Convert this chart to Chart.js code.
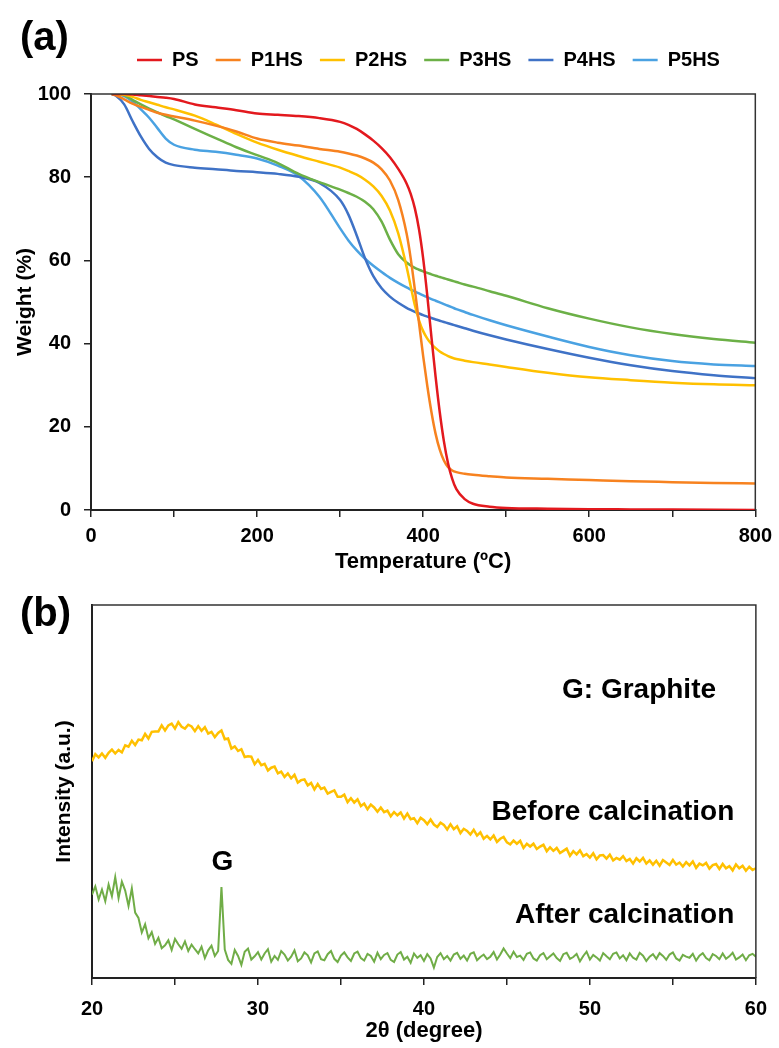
<!DOCTYPE html>
<html>
<head>
<meta charset="utf-8">
<script src="https://cdn.jsdelivr.net/npm/chart.js@4.4.1/dist/chart.umd.min.js"></script>
<style>
  body { margin: 0; background: #fff; }
  #wrap { position: relative; width: 779px; height: 1048px; }
  canvas { position: absolute; left: 0; }
  #chart-a { top: 0; }
  #chart-b { top: 585px; }
</style>
</head>
<body>
<div id="wrap">
  <canvas id="chart-a" width="779" height="585"></canvas>
  <canvas id="chart-b" width="779" height="463"></canvas>
</div>
<script>
// ---- TGA data (weight %, read at these temperatures) ----
const tempC = [25, 30, 40, 50, 60, 70, 80, 90, 100, 125, 150, 175, 200, 225, 250, 275, 300,
  310, 320, 330, 340, 350, 360, 370, 380, 385, 390, 395, 400, 405, 410, 415, 420, 425, 430,
  435, 440, 450, 460, 480, 500, 550, 600, 650, 700, 750, 800];

const wPS = [100, 100, 100, 99.9, 99.7, 99.5, 99.3, 99.1, 98.8, 97.5, 96.8, 96.1, 95.3, 95.0, 94.7, 94.2, 93.3,
  92.6, 91.6, 90.3, 88.8, 87.0, 84.8, 82.0, 78.5, 76.0, 72.5, 67.5, 60.5, 51.5, 41.5, 32.0, 23.5, 16.5, 11.2,
  7.5, 5.0, 2.6, 1.5, 0.8, 0.5, 0.3, 0.2, 0.15, 0.1, 0.05, 0.0];
const wP1HS = [100, 99.7, 98.7, 97.7, 96.9, 96.2, 95.5, 95.0, 94.6, 93.6, 92.4, 91.0, 89.3, 88.3, 87.6, 86.8, 86.1,
  85.7, 85.2, 84.5, 83.5, 81.9, 79.2, 74.5, 66.5, 60.5, 53.0, 45.0, 37.0, 29.8, 23.5, 18.3, 14.5, 11.9, 10.3,
  9.5, 9.1, 8.7, 8.45, 8.1, 7.8, 7.5, 7.2, 6.9, 6.7, 6.5, 6.4];
const wP2HS = [100, 100, 99.8, 99.3, 98.6, 98.0, 97.4, 96.8, 96.3, 94.8, 92.7, 90.4, 88.3, 86.6, 85.1, 83.7, 82.3,
  81.5, 80.6, 79.4, 77.8, 75.5, 72.0, 66.5, 58.5, 53.8, 49.2, 45.6, 43.0, 41.2, 39.9, 38.9, 38.1, 37.5, 37.0,
  36.6, 36.3, 35.9, 35.55, 35.0, 34.4, 33.0, 31.9, 31.2, 30.6, 30.2, 30.0];
const wP3HS = [100, 100, 99.7, 98.6, 97.5, 96.5, 95.6, 94.7, 93.9, 91.6, 89.4, 87.2, 85.3, 83.4, 80.8, 78.8, 77.0,
  76.2, 75.3, 74.1, 72.3, 69.3, 65.0, 61.5, 59.5, 58.8, 58.2, 57.75, 57.35, 57.0, 56.65, 56.3, 56.0, 55.7, 55.4,
  55.1, 54.8, 54.2, 53.7, 52.6, 51.5, 48.5, 46.0, 43.9, 42.3, 41.1, 40.2];
const wP4HS = [100, 99.6, 97.5, 93.5, 89.8, 86.8, 84.8, 83.5, 82.9, 82.3, 81.9, 81.5, 81.2, 80.8, 80.1, 78.6, 74.5,
  71.0, 66.0, 60.5, 56.2, 53.3, 51.3, 49.8, 48.6, 48.1, 47.65, 47.25, 46.85, 46.5, 46.15, 45.8, 45.5, 45.2, 44.9,
  44.6, 44.3, 43.7, 43.1, 42.0, 41.0, 38.7, 36.6, 34.8, 33.4, 32.4, 31.7];
const wP5HS = [100, 100, 99.5, 98.2, 96.3, 94.3, 91.8, 89.3, 87.8, 86.6, 86.1, 85.4, 84.5, 82.8, 80.3, 75.3, 67.7,
  64.8, 62.4, 60.4, 58.7, 57.2, 55.8, 54.6, 53.5, 53.0, 52.5, 52.05, 51.6, 51.15, 50.7, 50.3, 49.9, 49.5, 49.1,
  48.7, 48.3, 47.6, 46.9, 45.6, 44.4, 41.7, 39.2, 37.2, 35.8, 35.0, 34.6];

const tgaLabels = ['PS', 'P1HS', 'P2HS', 'P3HS', 'P4HS', 'P5HS'];
const tgaSeries = [wPS, wP1HS, wP2HS, wP3HS, wP4HS, wP5HS];
const tgaColors = ['#E3191E', '#F7821F', '#FFC000', '#6CB047', '#3F72C6', '#4AA2E2'];

const tempTicks = [0, 200, 400, 600, 800];
const weightTicks = [0, 20, 40, 60, 80, 100];

// ---- XRD scans, 2theta 20-60 deg in 0.2 deg steps (arb. units) ----
const thetaStart = 20, thetaStep = 0.2;
const xrdBefore = [
  61.0, 63.0, 62.1, 63.2, 62.0, 63.4, 64.3, 63.2, 64.2, 63.5,
  65.5, 65.1, 66.8, 65.6, 67.1, 66.9, 68.7, 67.4, 69.3, 69.4,
  69.4, 71.1, 69.7, 71.1, 71.6, 70.2, 72.0, 70.7, 70.2, 71.3,
  70.8, 69.5, 70.9, 69.6, 70.6, 68.8, 69.3, 67.8, 69.0, 69.7,
  67.2, 67.4, 64.6, 65.2, 63.9, 64.4, 62.2, 62.4, 62.3, 60.2,
  61.4, 59.9, 60.3, 58.4, 59.2, 59.5, 57.6, 58.1, 56.6, 57.6,
  56.2, 57.2, 55.0, 55.7, 55.9, 54.2, 54.9, 53.1, 54.6, 53.2,
  53.6, 51.9, 52.4, 52.8, 51.0, 51.0, 51.6, 49.5, 50.6, 49.4,
  50.3, 48.4, 49.1, 47.5, 48.8, 48.0, 46.8, 48.0, 46.7, 47.1,
  45.5, 46.7, 45.8, 46.6, 44.9, 46.3, 44.7, 45.0, 43.6, 45.1,
  44.4, 43.3, 44.6, 43.2, 42.5, 43.7, 43.1, 41.8, 43.3, 41.9,
  42.7, 40.8, 42.0, 41.4, 40.4, 41.7, 40.1, 41.0, 39.2, 40.0,
  39.0, 40.1, 38.3, 39.2, 39.7, 38.2, 37.6, 38.7, 37.8, 38.6,
  36.6, 37.8, 37.0, 37.8, 36.3, 37.0, 37.5, 35.7, 36.8, 35.8,
  36.6, 35.2, 35.8, 36.4, 34.4, 35.7, 34.8, 35.9, 34.3, 34.9,
  33.9, 35.1, 33.4, 34.5, 34.6, 33.6, 34.7, 33.1, 33.8, 33.3,
  34.3, 32.9, 33.5, 32.2, 33.7, 32.8, 33.8, 32.2, 33.1, 31.9,
  33.0, 31.6, 33.2, 32.5, 31.8, 33.2, 31.9, 32.5, 31.4, 32.6,
  31.7, 32.8, 31.0, 32.2, 31.7, 32.4, 30.8, 31.8, 32.1, 30.7,
  32.1, 30.9, 31.5, 30.3, 32.0, 30.9, 31.6, 30.2, 31.3, 30.4,
  30.9];
const xrdAfter = [
  23.5, 25.8, 22.1, 24.9, 21.6, 26.3, 23.0, 28.4, 22.5, 27.1,
  24.6, 20.3, 25.2, 18.4, 16.9, 12.8, 15.1, 11.2, 12.9, 9.6,
  11.3, 8.4, 9.2, 10.6, 7.9, 11.0, 9.5, 8.2, 10.3, 7.6,
  9.4, 8.1, 6.9, 8.8, 5.6, 7.8, 9.1, 6.2, 7.6, 25.6,
  8.0, 5.1, 4.0, 7.9, 6.2, 3.7, 7.4, 8.3, 5.2, 6.1,
  7.3, 5.2, 6.9, 8.1, 4.6, 6.2, 5.1, 7.6, 6.6, 4.9,
  6.0, 7.8, 4.7, 5.5, 7.2, 6.4, 4.4, 6.9, 7.5, 5.3,
  5.0, 6.7, 7.6, 5.4, 4.5, 6.3, 7.2, 5.8, 4.8, 6.9,
  7.4, 5.6, 4.9, 6.8, 6.2, 4.6, 7.1, 5.3, 6.5, 7.0,
  5.1, 4.5, 6.6, 7.3, 5.2, 6.0, 4.3, 6.9, 5.7, 6.4,
  4.8, 6.7, 5.5, 2.9, 5.9, 7.0, 5.3, 6.2, 4.9, 6.6,
  7.1, 5.4, 6.3, 4.9, 6.8, 7.2, 5.0, 5.9, 6.6, 5.3,
  6.0, 7.3, 5.2, 6.6, 8.3, 6.9, 5.6, 7.4, 5.9, 6.3,
  5.1, 6.8, 7.2, 5.5, 4.9, 6.4, 7.0, 5.3, 6.1, 6.9,
  5.6, 4.8, 6.7, 7.1, 5.4, 5.9, 6.8, 4.7, 6.2, 7.4,
  5.2, 6.5, 5.8, 4.9, 7.0, 6.1, 5.3, 6.8, 7.2, 5.5,
  6.4, 5.0, 6.9, 5.7, 5.2, 7.1, 6.3, 4.8, 6.0, 6.7,
  5.4, 7.0, 6.2, 5.1, 6.6, 7.2, 5.5, 4.9, 6.5, 6.0,
  5.7, 6.8, 4.9, 6.3, 7.0, 5.6, 5.0, 6.7, 6.2, 5.3,
  6.9, 5.4, 6.1, 7.1, 5.2, 5.8, 6.6, 5.0, 6.4, 6.8,
  6.0];
const thetaTicks = [20, 30, 40, 50, 60];

const sans = "'Liberation Sans', Arial, 'Helvetica Neue', sans-serif";
Chart.defaults.font.family = sans;
Chart.defaults.font.weight = 'bold';
Chart.defaults.color = '#000';

// box line on top and right of the plot area
const frame = {
  id: 'frame',
  afterDraw(chart) {
    const { ctx, chartArea: a } = chart;
    ctx.save();
    ctx.strokeStyle = '#333';
    ctx.lineWidth = 1.5;
    ctx.beginPath();
    ctx.moveTo(a.left, a.top);
    ctx.lineTo(a.right, a.top);
    ctx.lineTo(a.right, a.bottom);
    ctx.stroke();
    ctx.restore();
  }
};

// "(a)" / "(b)" panel letters
const panelLetter = {
  id: 'panelLetter',
  afterDraw(chart, args, opts) {
    const ctx = chart.ctx;
    ctx.save();
    ctx.font = 'bold 40px ' + sans;
    ctx.fillStyle = '#000';
    ctx.textBaseline = 'alphabetic';
    ctx.fillText(opts.text, opts.x, opts.y);
    ctx.restore();
  }
};

function pts(xs, ys) {
  return xs.map((x, i) => ({ x: x, y: ys[i] }));
}

// ---------------- (a) TGA ----------------
const ctxA = document.getElementById('chart-a').getContext('2d');
const chartA = new Chart(ctxA, {
  type: 'line',
  data: {
    datasets: tgaLabels.map((name, i) => ({
      label: name,
      data: pts(tempC, tgaSeries[i]),
      borderColor: tgaColors[i],
      backgroundColor: tgaColors[i],
      borderWidth: 2.5,
      pointRadius: 0,
      cubicInterpolationMode: 'monotone',
      fill: false
    }))
  },
  options: {
    responsive: false,
    animation: false,
    layout: { padding: { top: 33, right: 21, left: 0, bottom: 0 } },
    scales: {
      x: {
        type: 'linear',
        min: 0, max: 800,
        afterFit: (s) => { s.height = 75; },
        border: { color: '#222', width: 2 },
        grid: { drawOnChartArea: false, color: '#222', lineWidth: 1.5, tickLength: 7 },
        ticks: {
          stepSize: 100, autoSkip: false, maxRotation: 0, padding: 7,
          font: { size: 20 },
          callback: (v) => tempTicks.includes(v) ? String(v) : ''
        },
        title: { display: true, text: 'Temperature (ºC)', font: { size: 22 }, padding: { top: 0, bottom: 10 } }
      },
      y: {
        min: 0, max: 100,
        afterFit: (s) => { s.width = 91; },
        border: { color: '#222', width: 2 },
        grid: { drawOnChartArea: false, color: '#222', lineWidth: 1.5, tickLength: 7 },
        ticks: {
          stepSize: 20, padding: 13, font: { size: 20 },
          callback: (v) => weightTicks.includes(v) ? String(v) : ''
        },
        title: { display: true, text: 'Weight (%)', font: { size: 21 }, padding: 13 }
      }
    },
    plugins: {
      legend: {
        align: 'start',
        labels: {
          usePointStyle: true,
          pointStyle: 'line',
          pointStyleWidth: 25,
          padding: 17,
          font: { size: 20 },
          color: '#000'
        }
      },
      tooltip: { enabled: false },
      panelLetter: { text: '(a)', x: 20, y: 50 }
    }
  },
  plugins: [frame, panelLetter, {
    id: 'legendPlace',
    beforeInit(chart) {
      const lg = chart.legend;
      const fit = lg.fit;
      lg.fit = function () {
        fit.call(this);
        this.height = 61;
      };
    },
    afterLayout(chart) {
      const lg = chart.legend;
      const w = lg.right - lg.left;
      lg.left = 137 - lg.options.labels.padding;
      lg.right = lg.left + w;
    }
  }]
});

// ---------------- (b) XRD ----------------
const theta = xrdBefore.map((_, i) => +(thetaStart + i * thetaStep).toFixed(1));

const xrdNotes = {
  id: 'xrdNotes',
  afterDraw(chart) {
    const { ctx, scales: { x, y } } = chart;
    ctx.save();
    ctx.fillStyle = '#000';
    ctx.textBaseline = 'middle';
    ctx.font = 'bold 28px ' + sans;
    ctx.textAlign = 'right';
    ctx.fillText('G: Graphite', x.getPixelForValue(57.6), y.getPixelForValue(81));
    ctx.fillText('Before calcination', x.getPixelForValue(58.7), y.getPixelForValue(46.6));
    ctx.fillText('After calcination', x.getPixelForValue(58.7), y.getPixelForValue(17.7));
    ctx.textAlign = 'center';
    ctx.fillText('G', x.getPixelForValue(27.85), y.getPixelForValue(32.6));
    ctx.restore();
  }
};

const ctxB = document.getElementById('chart-b').getContext('2d');
const chartB = new Chart(ctxB, {
  type: 'line',
  data: {
    datasets: [
      {
        label: 'Before calcination',
        data: pts(theta, xrdBefore),
        borderColor: '#FFC000',
        borderWidth: 2.5,
        pointRadius: 0,
        tension: 0
      },
      {
        label: 'After calcination',
        data: pts(theta, xrdAfter),
        borderColor: '#70AD47',
        borderWidth: 2,
        pointRadius: 0,
        tension: 0
      }
    ]
  },
  options: {
    responsive: false,
    animation: false,
    layout: { padding: { top: 20, right: 20, left: 0, bottom: 0 } },
    scales: {
      x: {
        type: 'linear',
        min: 20, max: 60,
        afterFit: (s) => { s.height = 70; },
        border: { color: '#222', width: 2 },
        grid: { drawOnChartArea: false, color: '#222', lineWidth: 1.5, tickLength: 7 },
        ticks: {
          stepSize: 5, autoSkip: false, maxRotation: 0, padding: 12,
          font: { size: 20 },
          callback: (v) => thetaTicks.includes(v) ? String(v) : ''
        },
        title: { display: true, text: '2θ (degree)', font: { size: 22 }, padding: { top: 0, bottom: 4 } }
      },
      y: {
        min: 0, max: 105,
        afterFit: (s) => { s.width = 92; },
        border: { color: '#222', width: 2 },
        grid: { drawOnChartArea: false, drawTicks: false },
        ticks: { display: false },
        title: { display: true, text: 'Intensity (a.u.)', font: { size: 21 }, padding: 52 }
      }
    },
    plugins: {
      legend: { display: false },
      tooltip: { enabled: false },
      panelLetter: { text: '(b)', x: 20, y: 41 }
    }
  },
  plugins: [frame, panelLetter, xrdNotes]
});
</script>
</body>
</html>
